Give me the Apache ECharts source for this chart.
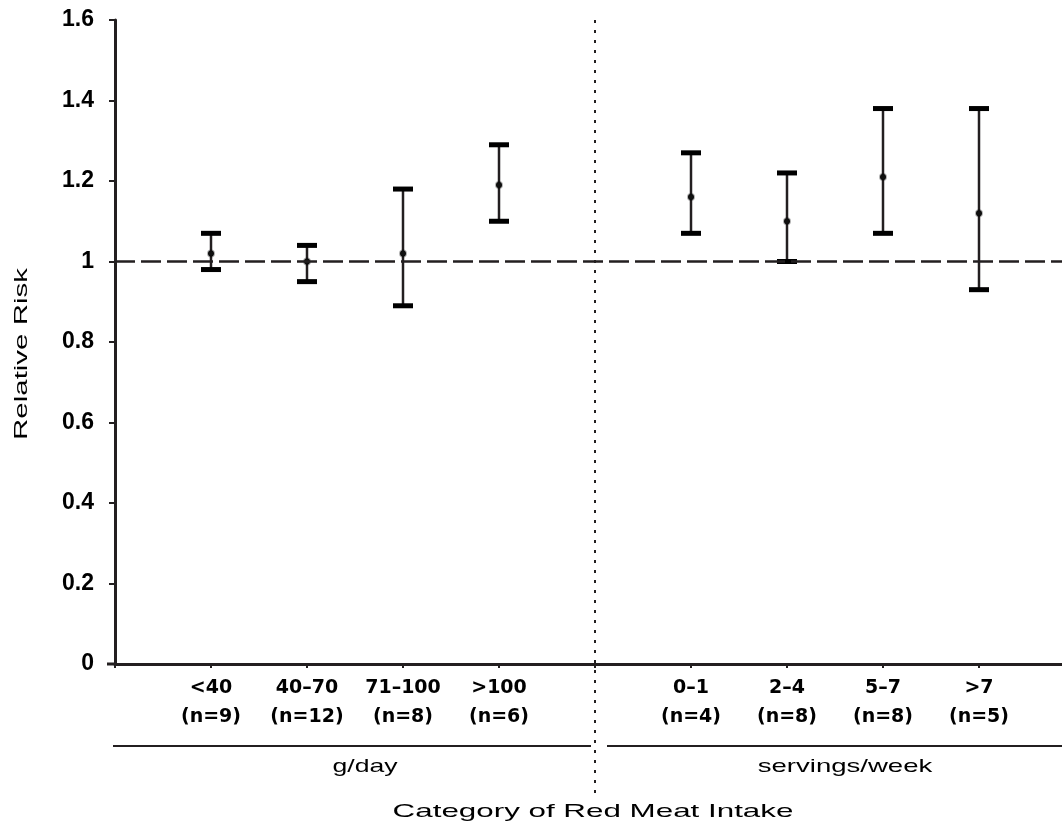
<!DOCTYPE html>
<html>
<head>
<meta charset="utf-8">
<script src="https://cdn.jsdelivr.net/npm/echarts@6/dist/echarts.min.js"></script>
<style>
  html, body { margin: 0; padding: 0; background: #fff; }
  #main { width: 1062px; height: 835px; }
</style>
</head>
<body>
<div id="main"></div>
<script>
  // categories (blank slots: axis start, divider, axis end)
  var xLabels = ['', '<40', '40–70', '71–100', '>100', '', '0–1', '2–4', '5–7', '>7', ''];
  var nCounts = [null, 9, 12, 8, 6, null, 4, 8, 8, 5, null];
  // relative risk and 95% CI
  var rr    = [null, 1.02, 1.00, 1.02, 1.19, null, 1.16, 1.10, 1.21, 1.12, null];
  var lower = [null, 0.98, 0.95, 0.89, 1.10, null, 1.07, 1.00, 1.07, 0.93, null];
  var upper = [null, 1.07, 1.04, 1.18, 1.29, null, 1.27, 1.22, 1.38, 1.38, null];
  var refValue = 1;
  var yMin = 0, yMax = 1.6, yStep = 0.2;
  var groups = ['g/day', 'servings/week'];
  var dividerIndex = 5;

  var ink = '#231f20';
  var catData = xLabels.map(function (l, i) {
    return nCounts[i] == null ? '' : l + '\n(n=' + nCounts[i] + ')';
  });
  var barData = [];
  for (var i = 0; i < rr.length; i++) {
    if (rr[i] != null) barData.push([i, lower[i], upper[i], rr[i]]);
  }

  var chart = echarts.init(document.getElementById('main'));
  chart.setOption({
    animation: false,
    grid: { left: 115, top: 20, height: 644, width: 960, outerBoundsMode: 'none', containLabel: false },
    xAxis: {
      type: 'category',
      data: catData,
      boundaryGap: false,
      axisLine: { lineStyle: { color: ink, width: 3 } },
      axisTick: { show: true, length: 4, interval: 0, lineStyle: { color: ink, width: 2 } },
      axisLabel: {
        interval: 0,
        margin: 10,
        color: '#000',
        fontFamily: 'DejaVu Sans',
        fontWeight: 'bold',
        fontSize: 19,
        lineHeight: 29
      },
      splitLine: { show: false }
    },
    yAxis: {
      type: 'value',
      min: yMin,
      max: yMax,
      interval: yStep,
      axisLine: { show: true, lineStyle: { color: ink, width: 3 } },
      axisTick: { show: true, length: 6, lineStyle: { color: ink, width: 2 } },
      axisLabel: {
        margin: 21,
        color: '#000',
        fontFamily: 'Liberation Sans',
        fontWeight: 'bold',
        fontSize: 23
      },
      splitLine: { show: false }
    },
    series: [{
      type: 'custom',
      clip: false,
      encode: { x: 0, y: [1, 2, 3] },
      data: barData,
      renderItem: function (params, api) {
        var x = api.value(0);
        var pLo = api.coord([x, api.value(1)]);
        var pHi = api.coord([x, api.value(2)]);
        var pM = api.coord([x, api.value(3)]);
        var hw = 10;
        return {
          type: 'group',
          children: [
            { type: 'line', shape: { x1: pLo[0], y1: pLo[1], x2: pHi[0], y2: pHi[1] },
              style: { stroke: ink, lineWidth: 2.5 } },
            { type: 'rect', shape: { x: pHi[0] - hw, y: pHi[1] - 2.5, width: hw * 2, height: 5 },
              style: { fill: '#000' } },
            { type: 'rect', shape: { x: pLo[0] - hw, y: pLo[1] - 2.5, width: hw * 2, height: 5 },
              style: { fill: '#000' } },
            { type: 'circle', shape: { cx: pM[0], cy: pM[1], r: 3 },
              style: { fill: '#111', stroke: 'rgba(0,0,0,0.3)', lineWidth: 2 } }
          ]
        };
      },
      markLine: {
        silent: true,
        symbol: 'none',
        label: { show: false },
        lineStyle: { color: ink, width: 2.5, type: [20, 6] },
        data: [{ yAxis: refValue }]
      },
      z: 3
    }]
  });

  // group separators and titles, placed from the axis scale
  function px(i) { return chart.convertToPixel({ xAxisIndex: 0 }, i); }
  var topY = chart.convertToPixel({ yAxisIndex: 0 }, yMax);
  var baseY = chart.convertToPixel({ yAxisIndex: 0 }, yMin);
  var divX = px(dividerIndex);
  var lineY = 746;
  var font = '19px "Liberation Sans"';
  chart.setOption({
    graphic: [
      { type: 'line', z: 10, shape: { x1: divX, y1: topY, x2: divX, y2: 800 },
        style: { stroke: ink, lineWidth: 2, lineDash: [3, 7] } },
      { type: 'line', shape: { x1: px(0) - 8, y1: baseY, x2: px(0), y2: baseY },
        style: { stroke: ink, lineWidth: 3 } },
      { type: 'line', shape: { x1: px(0) - 2, y1: lineY, x2: divX - 4, y2: lineY },
        style: { stroke: ink, lineWidth: 2 } },
      { type: 'line', shape: { x1: divX + 12, y1: lineY, x2: 1062, y2: lineY },
        style: { stroke: ink, lineWidth: 2 } },
      { type: 'text', x: (px(1) + px(4)) / 2 + 10, y: 767, scaleX: 1.4,
        style: { text: groups[0], font: font, fill: '#000', textAlign: 'center', textVerticalAlign: 'middle' } },
      { type: 'text', x: (px(6) + px(9)) / 2 + 10, y: 767, scaleX: 1.45,
        style: { text: groups[1], font: font, fill: '#000', textAlign: 'center', textVerticalAlign: 'middle' } },
      { type: 'text', x: 593, y: 812, scaleX: 1.65,
        style: { text: 'Category of Red Meat Intake', font: font, fill: '#000', textAlign: 'center', textVerticalAlign: 'middle' } },
      { type: 'text', x: 22, y: 354, rotation: Math.PI / 2, scaleX: 1.55,
        style: { text: 'Relative Risk', font: font, fill: '#000', textAlign: 'center', textVerticalAlign: 'middle' } }
    ]
  });
</script>
</body>
</html>
